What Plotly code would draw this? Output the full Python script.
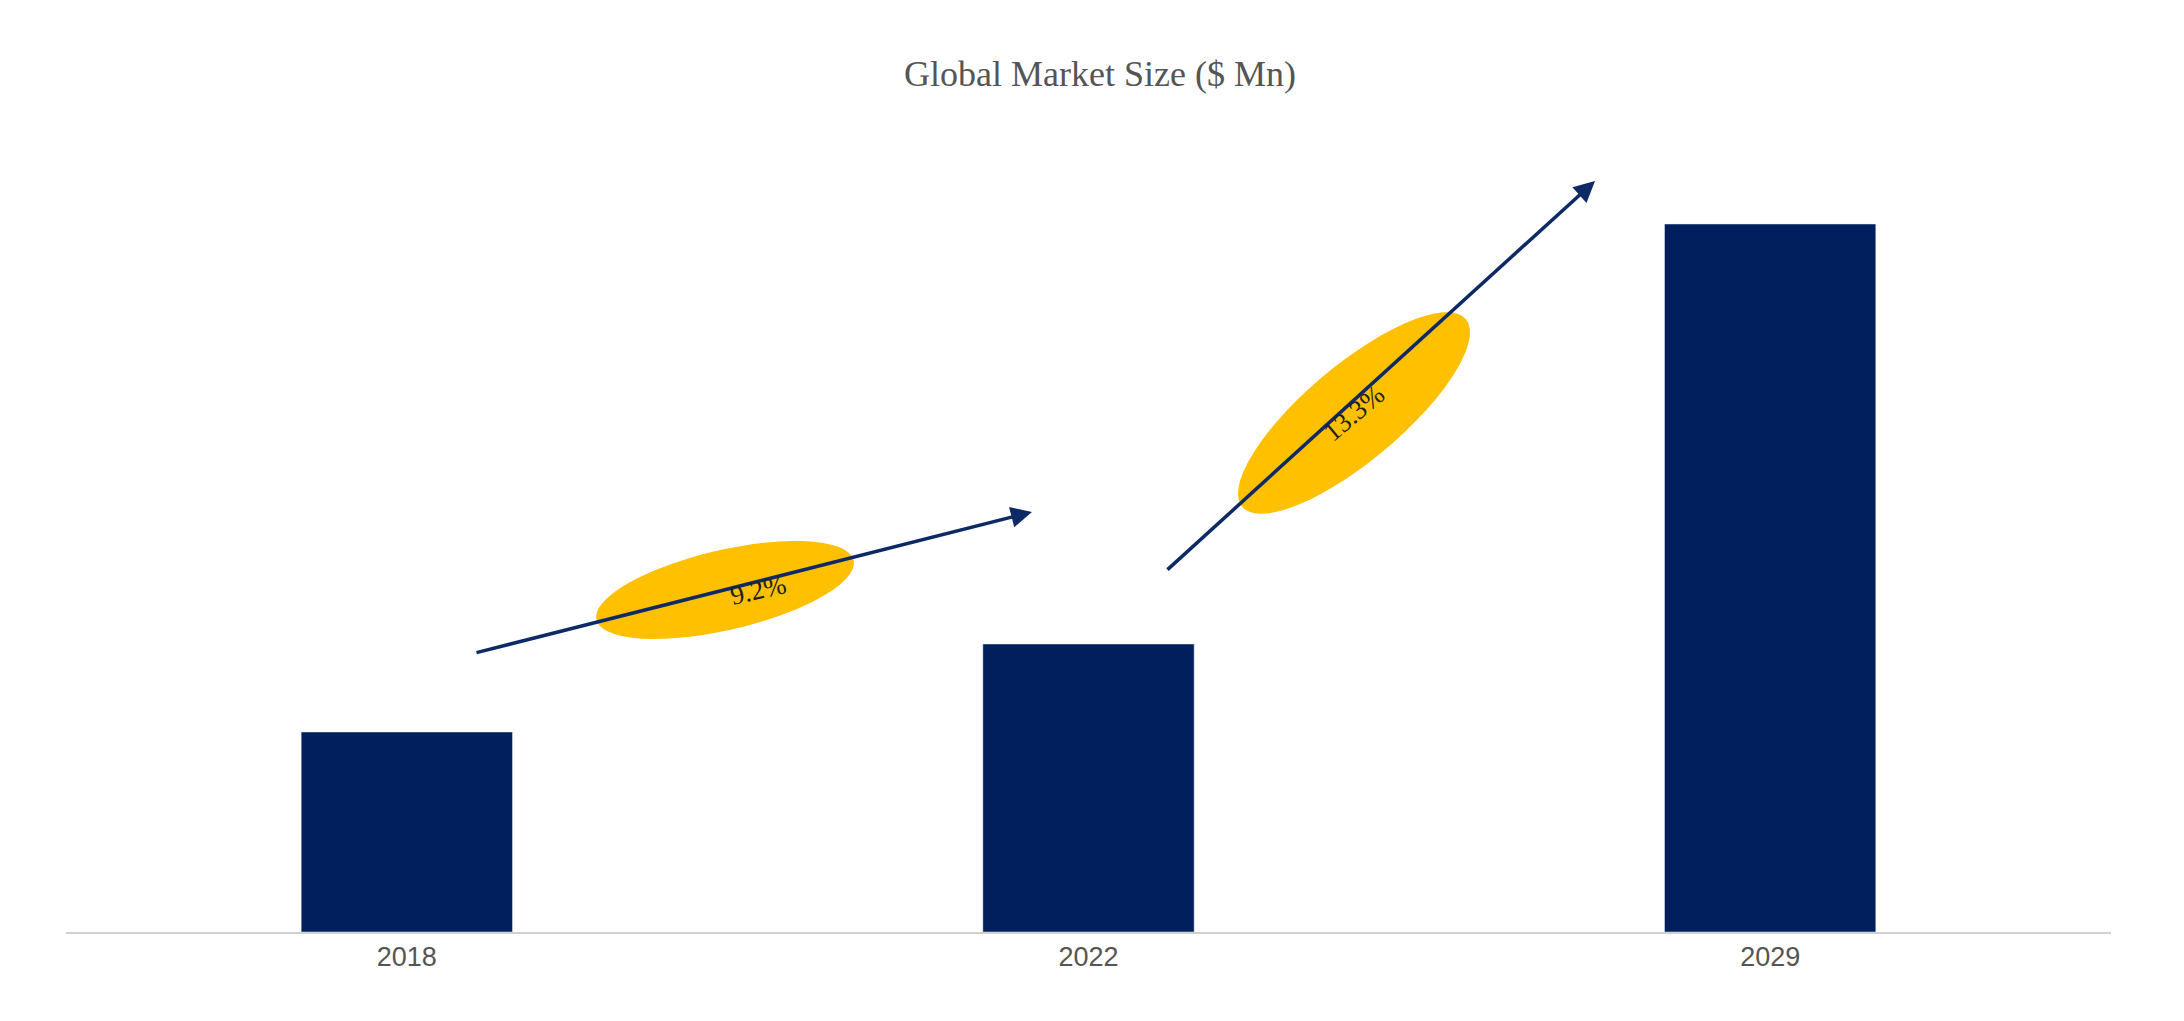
import numpy as np
import plotly.graph_objects as go

years = ["2018", "2022", "2029"]
values = [200, 288, 708]
cagr_labels = ["9.2%", "13.3%"]

W, H = 2184, 1021
L, R, T, B = 58, 2184 - 2103, 100, 1021 - 924
PW, PH = W - L - R, H - T - B

def px2p(px, py):
    return (px - L) / PW, (H - B - py) / PH

fig = go.Figure(go.Bar(x=years, y=values, marker_color="#001f5c", width=0.31))

shapes = []
anns = []
# ellipses (center px, semi-axes, angle deg)
ells = [((717, 582), 132, 40, 13), ((1346, 405), 146, 48, 40)]
for (cx, cy), a, b, ang in ells:
    t = np.linspace(0, 2 * np.pi, 60)
    th = np.radians(ang)
    xs = cx + a * np.cos(t) * np.cos(th) + b * np.sin(t) * np.sin(th)
    ys = cy - a * np.cos(t) * np.sin(th) + b * np.sin(t) * np.cos(th)
    pts = [px2p(x, y) for x, y in zip(xs, ys)]
    path = "M " + " L ".join(f"{x:.5f},{y:.5f}" for x, y in pts) + " Z"
    shapes.append(dict(type="path", path=path, xref="paper", yref="paper",
                       fillcolor="#ffc000", line=dict(width=0), layer="above"))

arrows = [((467, 645), (1024, 504)), ((1158, 563), (1587, 173))]
for (x0, y0), (x1, y1) in arrows:
    hx, hy = px2p(x1, y1)
    anns.append(dict(x=hx, y=hy, xref="paper", yref="paper", ax=x0 - x1, ay=y0 - y1,
                     axref="pixel", ayref="pixel", showarrow=True, arrowhead=2,
                     arrowsize=1.2, arrowwidth=3.5, arrowcolor="#0d2a66", text=""))

for ((cx, cy), a, b, ang), lab in zip(ells, cagr_labels):
    x, y = px2p(cx, cy)
    anns.append(dict(x=x, y=y, xref="paper", yref="paper", text=lab, showarrow=False,
                     textangle=-ang, font=dict(family="Liberation Serif", size=27, color="#222")))

shapes.append(dict(type="line", xref="paper", yref="paper", x0=-L / PW, x1=1 + R / PW,
                   y0=(924 - 1018) / PH, y1=(924 - 1018) / PH, line=dict(color="#111", width=4)))

fig.update_layout(
    width=W, height=H, margin=dict(l=L, r=R, t=T, b=B),
    paper_bgcolor="white", plot_bgcolor="white", showlegend=False,
    title=dict(text="Global Market Size ($ Mn)", x=0.5, xanchor="center", y=1 - 65 / H, yanchor="middle",
               font=dict(family="Liberation Serif", size=36, color="#555")),
    xaxis=dict(showline=True, linecolor="#d0d0d0", linewidth=2, ticks="",
               tickfont=dict(family="Liberation Sans", size=27, color="#555"), range=[-0.5, 2.5]),
    yaxis=dict(visible=False, range=[0, PH]),
    shapes=shapes, annotations=anns,
)
fig.write_html("out.html")
